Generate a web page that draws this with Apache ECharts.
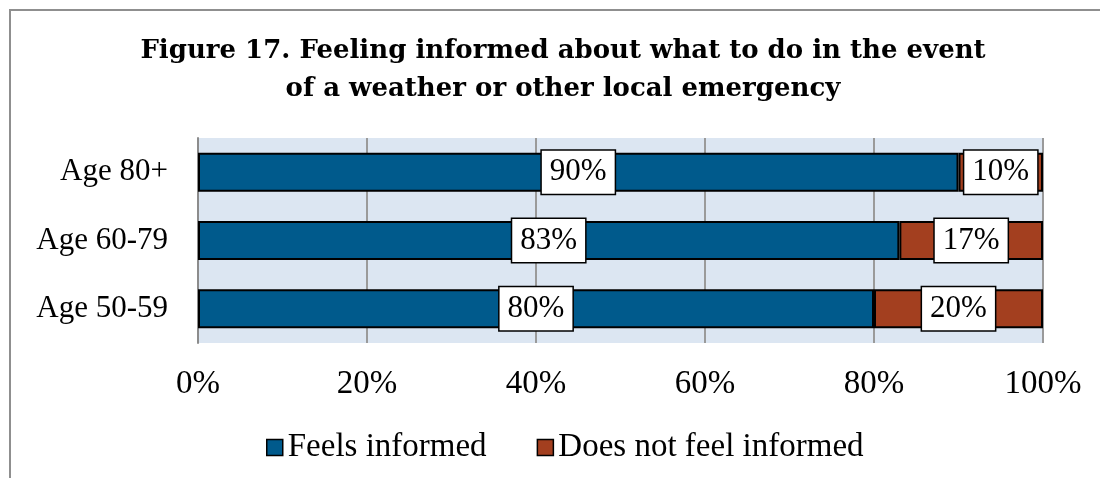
<!DOCTYPE html>
<html>
<head>
<meta charset="utf-8">
<script src="https://cdn.jsdelivr.net/npm/echarts@6/dist/echarts.min.js"></script>
<style>
html,body{margin:0;padding:0;background:#fff;}
#chart{width:1100px;height:478px;}
</style>
</head>
<body>
<div id="chart"></div>
<script>
var categories = ['Age 80+', 'Age 60-79', 'Age 50-59'];
var feelsInformed = [90, 83, 80];
var notInformed = [10, 17, 20];
var xTicks = [0, 20, 40, 60, 80, 100];
var seriesNames = ['Feels informed', 'Does not feel informed'];
var titleText = 'Figure 17. Feeling informed about what to do in the event\nof a weather or other local emergency';

var serif = '"Liberation Serif", "Times New Roman", serif';
var labelStyle = {
  show: true,
  position: 'inside',
  formatter: '{c}%',
  backgroundColor: '#ffffff',
  borderColor: '#000000',
  borderWidth: 1.5,
  padding: [4, 8],
  fontFamily: serif,
  fontSize: 31,
  lineHeight: 35,
  color: '#000000'
};

var chart = echarts.init(document.getElementById('chart'));
chart.setOption({
  animation: false,
  backgroundColor: '#ffffff',
  graphic: [{
    type: 'rect',
    shape: {x: 10, y: 10, width: 1200, height: 600},
    style: {fill: 'none', stroke: '#8f8f8f', lineWidth: 2},
    silent: true
  }],
  title: {
    text: titleText,
    left: 563,
    top: 32,
    padding: 0,
    textAlign: 'center',
    textStyle: {
      fontFamily: '"DejaVu Serif", serif',
      fontWeight: 'bold',
      fontSize: 26,
      lineHeight: 38,
      color: '#000000'
    }
  },
  legend: {
    data: seriesNames,
    left: 261,
    top: 426,
    icon: 'rect',
    itemWidth: 16,
    itemHeight: 16,
    itemGap: 50,
    itemStyle: {borderColor: '#000000', borderWidth: 1.5},
    textStyle: {fontFamily: serif, fontSize: 33, color: '#000000'}
  },
  grid: {
    left: 198,
    right: 57,
    top: 138,
    bottom: 135,
    show: true,
    backgroundColor: '#dce6f2',
    borderWidth: 0
  },
  xAxis: {
    type: 'value',
    min: xTicks[0],
    max: xTicks[xTicks.length - 1],
    interval: xTicks[1] - xTicks[0],
    axisLine: {show: false},
    axisTick: {show: false},
    splitLine: {show: true, lineStyle: {color: '#9a9a9a', width: 2}},
    axisLabel: {
      formatter: '{value}%',
      fontFamily: serif,
      fontSize: 33,
      color: '#000000',
      margin: 25
    }
  },
  yAxis: {
    type: 'category',
    data: categories,
    inverse: true,
    axisLine: {show: true, lineStyle: {color: '#8c8c8c', width: 2}},
    axisTick: {show: false},
    axisLabel: {fontFamily: serif, fontSize: 31, color: '#000000', margin: 30}
  },
  series: [
    {
      name: seriesNames[0],
      type: 'bar',
      stack: 'total',
      data: feelsInformed,
      barWidth: 39,
      itemStyle: {color: '#005a8c', borderColor: '#000000', borderWidth: 2},
      label: labelStyle
    },
    {
      name: seriesNames[1],
      type: 'bar',
      stack: 'total',
      data: notInformed,
      barWidth: 39,
      itemStyle: {color: '#a33f1f', borderColor: '#000000', borderWidth: 2},
      label: labelStyle
    }
  ]
});
</script>
</body>
</html>
